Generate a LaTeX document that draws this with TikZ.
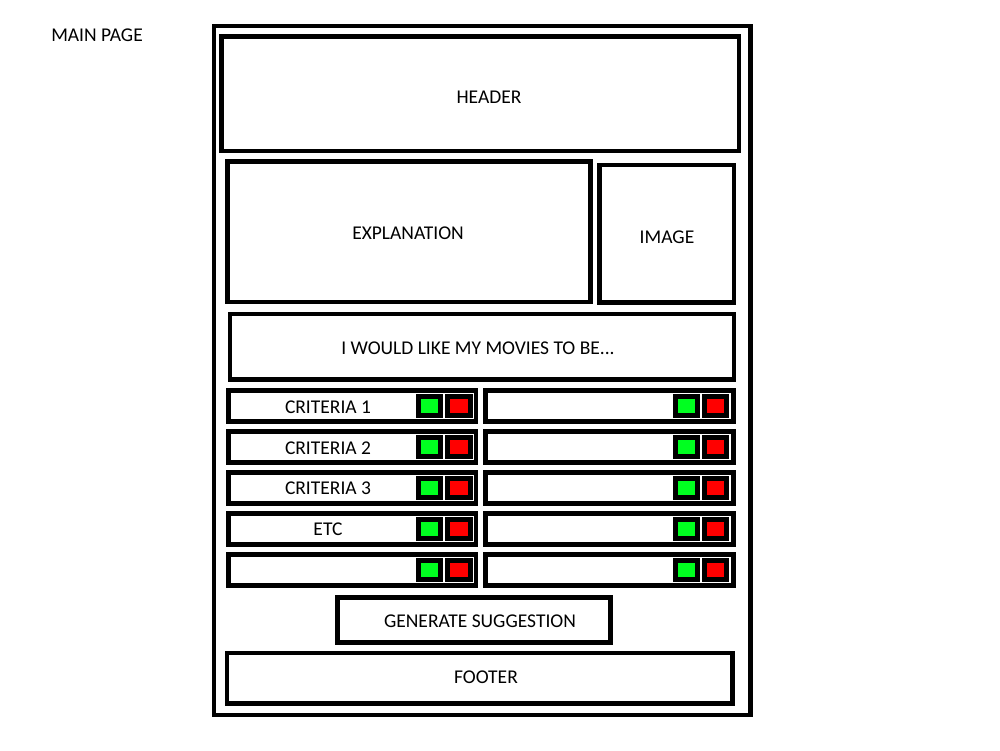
\documentclass[tikz,border=0pt]{standalone}
\usepackage{fontspec}
\setmainfont{Carlito}
\definecolor{btngreen}{RGB}{0,255,32}
\definecolor{btnred}{RGB}{255,0,0}
\begin{document}
\begin{tikzpicture}[x=1pt,y=-1pt,
  panel/.style={draw=black, line width=4.6pt, inner sep=0pt},
  pagetext/.style={inner sep=0pt, font=\fontsize{19.5}{23}\selectfont},
  btn/.style={draw=black, line width=5pt, inner sep=0pt,
    minimum width=22.6pt, minimum height=18.8pt},
  yesbtn/.style={btn, fill=btngreen},
  nobtn/.style={btn, fill=btnred}]
  % page area
  \path[fill=white, use as bounding box] (0,0) rectangle (1000,750);

  % outer page frame
  \node[panel, line width=4.3pt, minimum width=536.5pt, minimum height=689pt] (page) at (482.25,370.5) {};

  % top sections
  \node[panel, minimum width=517.5pt, minimum height=114.5pt] (header) at (480.25,93.75) {};
  \node[panel, minimum width=363pt, minimum height=140.5pt] (explanation) at (409,231.75) {};
  \node[panel, minimum width=134.5pt, minimum height=137.5pt] (image) at (666.75,233.75) {};
  \node[panel, minimum width=503.8pt, minimum height=65.9pt] (wish) at (481.9,346.75) {};

  % criteria rows, two columns, each with a yes / no button pair
  \foreach \i/\lab/\ty in {0/CRITERIA 1/407, 1/CRITERIA 2/448.5, 2/CRITERIA 3/488, 3/ETC/529.5, 4//570} {
    \pgfmathsetmacro{\cy}{406+41*\i}
    \node[panel, minimum width=247.8pt, minimum height=31pt] (rowl\i) at (352.1,\cy) {};
    \node[panel, minimum width=248pt, minimum height=31pt] (rowr\i) at (609.5,\cy) {};
    \node[yesbtn] (yesl\i) at (429.5,\cy) {};
    \node[nobtn] (nol\i) at (458.85,\cy) {};
    \node[yesbtn] (yesr\i) at (686.65,\cy) {};
    \node[nobtn] (nor\i) at (715.65,\cy) {};
    \node[pagetext] (rowtext\i) at (328,\ty) {\lab};
  }

  % action button and footer
  \node[panel, minimum width=273pt, minimum height=44.7pt] (generate) at (474,619.85) {};
  \node[panel, minimum width=505.5pt, minimum height=50.3pt] (footer) at (479.75,678.15) {};

  % labels
  \node[pagetext] (title) at (97,35) {MAIN PAGE};
  \node[pagetext] (headertext) at (489,97) {HEADER};
  \node[pagetext] (explanationtext) at (408,233) {EXPLANATION};
  \node[pagetext] (imagetext) at (667,237) {IMAGE};
  \node[pagetext] (wishtext) at (478,348) {I WOULD LIKE MY MOVIES TO BE...};
  \node[pagetext] (generatetext) at (480,621) {GENERATE SUGGESTION};
  \node[pagetext] (footertext) at (486,677) {FOOTER};
\end{tikzpicture}
\end{document}
